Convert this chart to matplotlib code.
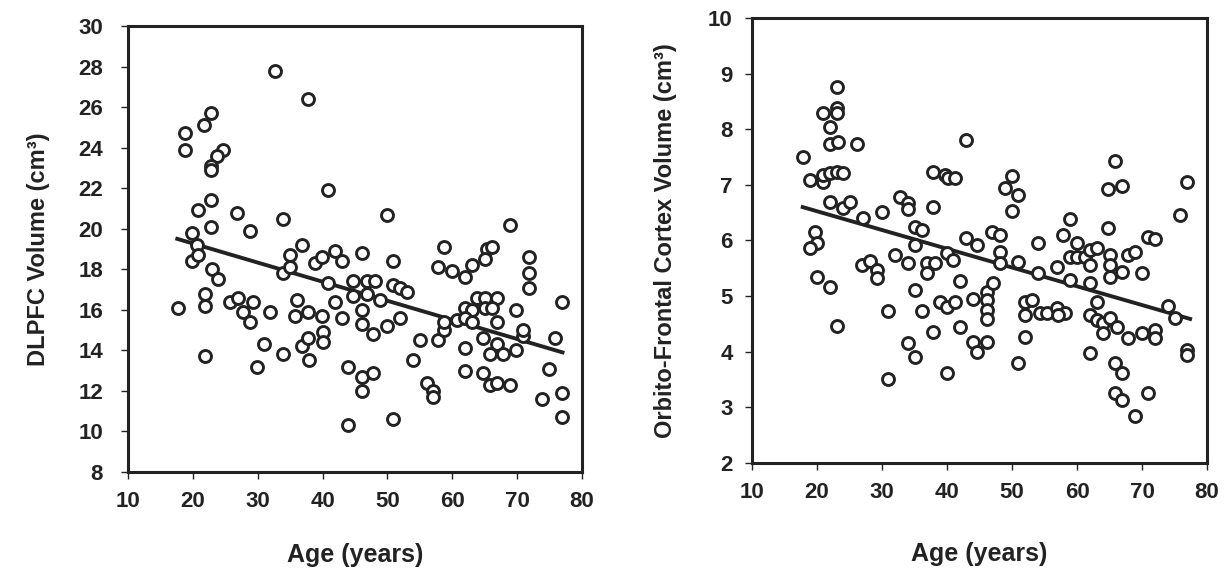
import matplotlib
matplotlib.use("Agg")
import matplotlib.pyplot as plt

# Panel izquierdo: DLPFC vs edad
dlpfc_edad = [32.6, 37.7, 18.8, 18.8, 21.7, 22.8, 24.6, 23.7, 22.8, 22.8,
              40.8, 22.8, 20.8, 26.8, 33.9, 22.8, 28.8, 19.9, 36.8, 20.6,
              49.9, 68.9, 58.8, 65.3, 66.1, 41.9, 46.1, 17.7, 19.9, 20.8,
              22.9, 23.9, 21.9, 21.9, 21.9, 25.7, 26.9, 27.7, 28.8, 29.3,
              31.9, 29.9, 31.0, 33.9, 33.9, 35.0, 35.0, 36.0, 35.7, 37.7,
              39.9, 36.8, 37.7, 40.0, 40.0, 37.9, 38.8, 39.9, 43.0, 40.8,
              41.9, 43.0, 44.7, 44.7, 43.9, 43.9, 46.1, 46.1, 46.1, 46.1,
              50.8, 65.0, 71.8, 71.8, 71.8, 57.8, 59.9, 61.9, 63.0, 46.8,
              48.1, 46.8, 48.8, 50.8, 51.9, 53.0, 47.8, 49.9, 51.9, 55.0,
              53.9, 57.8, 58.8, 58.8, 60.8, 61.9, 63.0, 63.8, 65.0, 65.0,
              66.9, 66.1, 61.9, 63.0, 66.9, 69.9, 64.7, 66.9, 65.8, 67.8,
              69.9, 70.9, 70.9, 61.9, 61.9, 64.7, 65.8, 66.9, 68.9, 76.9,
              75.9, 74.9, 73.8, 76.9, 76.9, 50.8, 47.8, 56.1, 57.0, 57.0]
dlpfc_vol = [27.8, 26.4, 24.7, 23.9, 25.1, 25.7, 23.9, 23.6, 23.1, 22.9,
             21.9, 21.4, 20.9, 20.8, 20.5, 20.1, 19.9, 19.8, 19.2, 19.2,
             20.7, 20.2, 19.1, 19.0, 19.1, 18.9, 18.8, 16.1, 18.4, 18.7,
             18.0, 17.5, 16.8, 16.2, 13.7, 16.4, 16.6, 15.9, 15.4, 16.4,
             15.9, 13.2, 14.3, 13.8, 17.8, 18.7, 18.1, 16.5, 15.7, 15.9,
             15.7, 14.2, 14.6, 14.9, 14.4, 13.5, 18.3, 18.6, 18.4, 17.3,
             16.4, 15.6, 17.4, 16.7, 13.2, 10.3, 12.7, 12.0, 16.0, 15.3,
             18.4, 18.5, 18.6, 17.8, 17.1, 18.1, 17.9, 17.6, 18.2, 17.4,
             17.4, 16.8, 16.5, 17.2, 17.1, 16.9, 14.8, 15.2, 15.6, 14.5,
             13.5, 14.5, 15.0, 15.4, 15.5, 16.1, 16.0, 16.6, 16.6, 16.1,
             16.6, 16.1, 15.6, 15.4, 15.4, 16.0, 14.6, 14.3, 13.8, 13.8,
             14.0, 14.7, 15.0, 14.1, 13.0, 12.9, 12.3, 12.4, 12.3, 16.4,
             14.6, 13.1, 11.6, 11.9, 10.7, 10.6, 12.9, 12.4, 12.0, 11.7]
dlpfc_recta_x = [17.6, 77.0]
dlpfc_recta_y = [19.5, 13.9]

# Panel derecho: corteza orbito-frontal vs edad
ofc_edad = [17.8, 18.9, 20.9, 20.9, 20.9, 23.0, 23.0, 23.0, 22.0, 22.0,
            23.2, 26.2, 22.0, 23.0, 24.0, 22.0, 24.0, 25.1, 27.1, 30.0,
            32.8, 34.0, 34.0, 35.1, 36.2, 35.1, 37.8, 39.7, 40.2, 41.2,
            37.8, 42.9, 42.9, 19.7, 20.0, 18.9, 44.6, 50.0, 48.9, 50.9,
            50.0, 65.8, 64.8, 66.9, 76.9, 75.8, 64.8, 58.9, 57.8, 60.0,
            70.9, 72.0, 54.0, 46.9, 48.2, 20.0, 22.0, 23.1, 26.9, 28.2,
            29.2, 29.2, 32.0, 34.0, 35.1, 30.9, 36.2, 34.0, 35.1, 30.9,
            36.9, 38.2, 36.9, 40.0, 40.9, 42.0, 38.9, 40.0, 41.2, 44.0,
            37.8, 42.0, 40.0, 44.0, 44.6, 48.2, 48.2, 46.2, 47.1, 46.2,
            46.2, 46.2, 46.2, 50.9, 54.0, 56.9, 58.9, 60.0, 61.2, 62.0,
            63.1, 62.0, 65.1, 65.1, 65.1, 66.9, 67.8, 68.9, 70.0, 58.9,
            62.0, 52.0, 53.1, 52.0, 54.3, 55.4, 56.9, 58.2, 57.1, 52.0,
            50.9, 63.1, 62.0, 63.1, 64.0, 65.1, 66.2, 64.0, 62.0, 67.8,
            70.0, 72.0, 72.0, 65.8, 66.9, 65.8, 66.9, 70.9, 68.9, 74.0,
            75.1, 76.9, 76.9]
ofc_vol = [7.50, 7.09, 7.05, 7.18, 8.29, 8.76, 8.38, 8.29, 8.04, 7.73,
           7.77, 7.73, 7.21, 7.23, 7.21, 6.69, 6.58, 6.69, 6.40, 6.51,
           6.78, 6.67, 6.56, 6.24, 6.19, 5.92, 7.23, 7.18, 7.12, 7.12,
           6.60, 7.81, 6.04, 6.15, 5.95, 5.86, 5.92, 7.16, 6.94, 6.82,
           6.53, 7.43, 6.92, 6.98, 7.05, 6.46, 6.22, 6.38, 6.10, 5.95,
           6.06, 6.03, 5.95, 6.15, 6.10, 5.34, 5.16, 4.46, 5.56, 5.63,
           5.47, 5.32, 5.74, 5.59, 5.11, 4.73, 4.73, 4.15, 3.90, 3.51,
           5.59, 5.59, 5.41, 5.77, 5.65, 5.27, 4.89, 4.80, 4.89, 4.94,
           4.35, 4.44, 3.62, 4.17, 3.99, 5.79, 5.59, 5.07, 5.23, 4.93,
           4.75, 4.59, 4.17, 5.61, 5.41, 5.52, 5.70, 5.70, 5.70, 5.83,
           5.86, 5.56, 5.74, 5.56, 5.34, 5.43, 5.74, 5.79, 5.41, 5.29,
           5.23, 4.89, 4.93, 4.66, 4.69, 4.69, 4.78, 4.69, 4.66, 4.26,
           3.79, 4.89, 4.66, 4.57, 4.51, 4.60, 4.44, 4.33, 3.97, 4.24,
           4.33, 4.39, 4.24, 3.79, 3.62, 3.26, 3.13, 3.26, 2.84, 4.82,
           4.60, 4.03, 3.94]
ofc_recta_x = [17.8, 77.4]
ofc_recta_y = [6.60, 4.59]

plt.rcParams['font.family'] = ['Liberation Sans', 'DejaVu Sans']
plt.rcParams['font.weight'] = 'bold'

tinta = '#222222'
fig = plt.figure(figsize=(12.28, 5.69), dpi=100)
ax1 = fig.add_axes([0.1042, 0.1705, 0.3697, 0.7838])
ax2 = fig.add_axes([0.6124, 0.1863, 0.3705, 0.7821])

# (ejes, x, y, recta x, recta y, limites y, ticks y, etiqueta, pad ticks y, pad etiqueta y, pad etiqueta x)
paneles = [
    (ax1, dlpfc_edad, dlpfc_vol, dlpfc_recta_x, dlpfc_recta_y,
     (8, 30), range(8, 31, 2), "DLPFC Volume (cm³)", 13, 20, 22),
    (ax2, ofc_edad, ofc_vol, ofc_recta_x, ofc_recta_y,
     (2, 10), range(2, 11), "Orbito-Frontal Cortex Volume (cm³)", 9, 22, 28),
]

for ax, x, y, rx, ry, ylim, yticks, etiqueta, pad_tick, pad_ylab, pad_xlab in paneles:
    ax.plot(x, y, 'o', ms=8.6, mfc='white', mec=tinta, mew=2.1, zorder=3)
    ax.plot(rx, ry, '-', color=tinta, lw=2.8, zorder=2)
    ax.set_xlim(10, 80)
    ax.set_ylim(*ylim)
    ax.set_xticks(range(10, 81, 10))
    ax.set_yticks(list(yticks))
    for lado in ax.spines.values():
        lado.set_linewidth(2.2)
        lado.set_color(tinta)
    ax.tick_params(axis='both', direction='out', length=5, width=1.0,
                   color=tinta, labelsize=16, labelcolor=tinta)
    ax.tick_params(axis='y', pad=pad_tick)
    ax.tick_params(axis='x', pad=9)
    ax.set_xlabel("Age (years)", fontsize=18, fontweight='bold',
                  color=tinta, labelpad=pad_xlab)
    ax.set_ylabel(etiqueta, fontsize=17, fontweight='bold',
                  color=tinta, labelpad=pad_ylab)

plt.savefig("out.png", dpi=100)
